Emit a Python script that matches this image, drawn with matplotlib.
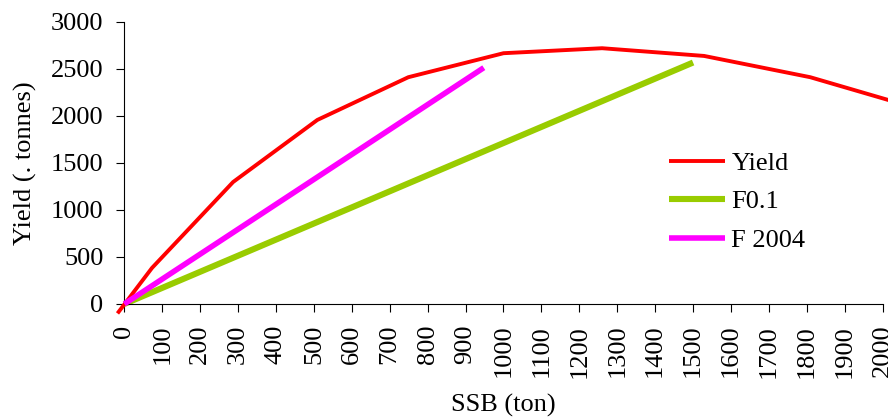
import matplotlib
matplotlib.use("Agg")
import matplotlib.pyplot as plt

plt.rcParams['font.family'] = ['Liberation Serif', 'DejaVu Serif']

# Yield curve against spawning stock biomass
ssb_yield = [-18, 73, 287, 509, 749, 1000, 1260, 1529, 1809, 2100]
yield_t = [-100, 383, 1296, 1955, 2409, 2664, 2717, 2635, 2409, 2067]

# Reference fishing mortality lines
ssb_f01 = [0, 1500]
yield_f01 = [0, 2565]
ssb_f2004 = [0, 948]
yield_f2004 = [0, 2510]

x_ticks = list(range(0, 2001, 100))
y_ticks = list(range(0, 3001, 500))

FS = 19

fig = plt.figure(figsize=(8.88, 4.19), dpi=100)
ax = fig.add_axes([0.140, 0.2745, 0.854, 0.674])

ax.plot(ssb_yield, yield_t, color='#ff0000', lw=2.8, label='Yield',
        clip_on=False, solid_joinstyle='miter', solid_capstyle='butt', zorder=3)
ax.plot(ssb_f01, yield_f01, color='#99cc00', lw=4.4, label='F0.1',
        solid_capstyle='butt', clip_on=False, zorder=2)
ax.plot(ssb_f2004, yield_f2004, color='#ff00ff', lw=4.0, label='F 2004',
        solid_capstyle='butt', clip_on=False, zorder=4)

ax.set_xlim(0, 2000)
ax.set_ylim(0, 3000)
ax.set_xticks(x_ticks)
ax.set_yticks(y_ticks)
ax.set_xticklabels([str(v) for v in x_ticks], rotation=90)

for side in ('top', 'right'):
    ax.spines[side].set_visible(False)
for side in ('left', 'bottom'):
    ax.spines[side].set_color('#000000')
    ax.spines[side].set_linewidth(0.8)

ax.tick_params(axis='both', direction='out', length=6, width=0.8,
               labelsize=FS, color='#000000')
ax.tick_params(axis='x', pad=9)
ax.tick_params(axis='y', pad=9)

ax.set_xlabel('SSB (ton)', fontsize=FS, labelpad=12)
ax.set_ylabel('Yield (. tonnes)', fontsize=FS, labelpad=10)

leg = ax.legend(loc='upper left', bbox_to_anchor=(0.718, 0.539), frameon=False,
                fontsize=FS, handlelength=2.12, handletextpad=0.25,
                labelspacing=0.56, borderaxespad=0, borderpad=0)

fig.savefig('out.png', dpi=100)
